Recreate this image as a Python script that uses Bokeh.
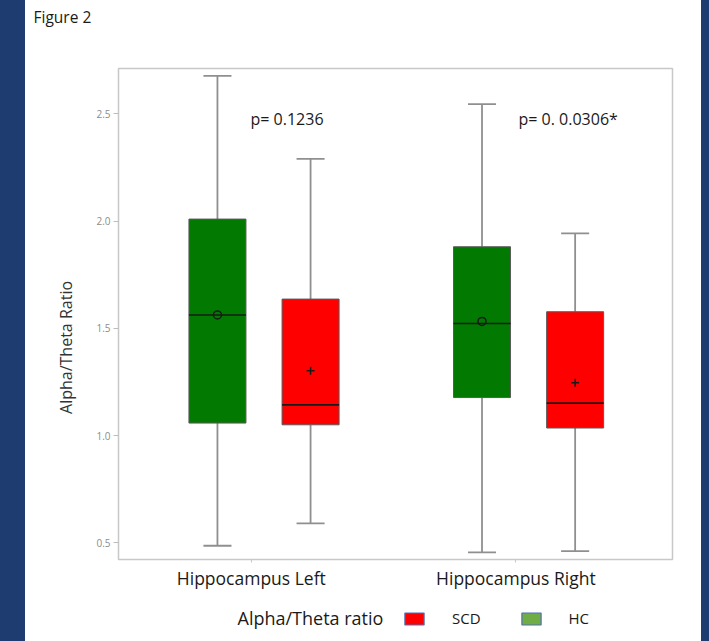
from math import pi
from bokeh.plotting import figure
from bokeh.models import (ColumnDataSource, FixedTicker, Label, Legend, LegendItem,
                          Spacer, Range1d)
from bokeh.layouts import row, column
from bokeh.embed import file_html
from bokeh.resources import INLINE

# ---------------- data ----------------
groups = ["Hippocampus Left", "Hippocampus Right"]
group_pos = [1, 2]

hc_lower = [0.486, 0.455]
hc_q1 = [1.058, 1.177]
hc_median = [1.562, 1.522]
hc_q3 = [2.009, 1.880]
hc_upper = [2.677, 2.545]
hc_mean = [1.562, 1.532]

scd_lower = [0.590, 0.461]
scd_q1 = [1.050, 1.035]
scd_median = [1.143, 1.151]
scd_q3 = [1.636, 1.577]
scd_upper = [2.290, 1.942]
scd_mean = [1.302, 1.246]

p_texts = ["p= 0.1236", "p= 0. 0.0306*"]
ytick_values = [0.5, 1.0, 1.5, 2.0, 2.5]
ytick_labels = ["0.5", "1.0", "1.5", "2.0", "2.5"]
y_title = "Alpha/Theta Ratio"
caption = "Figure 2"
legend_title = "Alpha/Theta ratio"
legend_labels = ["SCD", "HC"]

# ---------------- style / layout ----------------
FONT = "Open Sans"
NAVY = "#1f3c71"
TXT = "#1a1a1a"
DODGE = 0.176
BOX_W = 0.2155
CAP_W = 0.106
LABEL_SHIFT = -0.048
WHISK = "#8f8f8f"
HC_FILL = "#027a02"
SCD_FILL = "#ff0000"


def blank_fig(w, h):
    f = figure(width=w, height=h, x_range=Range1d(0, w), y_range=Range1d(0, h),
               output_backend="svg", toolbar_location=None, title=None,
               x_axis_location=None, y_axis_location=None,
               min_border=0, min_border_left=0, min_border_right=0,
               min_border_top=0, min_border_bottom=0)
    f.outline_line_color = None
    f.background_fill_color = "white"
    f.border_fill_color = "white"
    f.xgrid.visible = False
    f.ygrid.visible = False
    return f


# ---------------- main plot ----------------
p = figure(width=616, height=565, x_range=(0.45, 2.544), y_range=(0.422, 2.711),
           output_backend="svg", toolbar_location=None, title=None,
           min_border_left=33, min_border_right=29, min_border_top=33, min_border_bottom=41)
p.background_fill_color = "white"
p.border_fill_color = "white"
p.outline_line_color = "#c8c8c8"
p.outline_line_width = 1.5
p.xgrid.visible = False
p.ygrid.visible = False


def draw_series(offset, lower, q1, med, q3, upper, mean, fill, mean_marker):
    xs = [g + offset for g in group_pos]
    src = ColumnDataSource(dict(
        x=xs, lower=lower, q1=q1, med=med, q3=q3, upper=upper, mean=mean,
        x0=[x - BOX_W / 2 for x in xs], x1=[x + BOX_W / 2 for x in xs],
        c0=[x - CAP_W / 2 for x in xs], c1=[x + CAP_W / 2 for x in xs],
    ))
    p.segment(x0="x", y0="q3", x1="x", y1="upper", source=src, line_color=WHISK, line_width=1.8)
    p.segment(x0="x", y0="q1", x1="x", y1="lower", source=src, line_color=WHISK, line_width=1.8)
    p.segment(x0="c0", y0="upper", x1="c1", y1="upper", source=src, line_color=WHISK, line_width=1.8)
    p.segment(x0="c0", y0="lower", x1="c1", y1="lower", source=src, line_color=WHISK, line_width=1.8)
    p.vbar(x="x", width=BOX_W, bottom="q1", top="q3", source=src,
           fill_color=fill, line_color="#5a5a5a", line_width=1)
    p.segment(x0="x0", y0="med", x1="x1", y1="med", source=src, line_color=TXT, line_width=1.6)
    if mean_marker == "circle":
        p.scatter(x="x", y="mean", source=src, marker="circle", size=8,
                  fill_color=None, line_color=TXT, line_width=1.5)
    else:
        p.scatter(x="x", y="mean", source=src, marker="cross", size=8,
                  line_color=TXT, line_width=1.5)


draw_series(-DODGE, hc_lower, hc_q1, hc_median, hc_q3, hc_upper, hc_mean, HC_FILL, "circle")
draw_series(DODGE, scd_lower, scd_q1, scd_median, scd_q3, scd_upper, scd_mean, SCD_FILL, "cross")

p.yaxis.ticker = FixedTicker(ticks=ytick_values)
p.yaxis.major_label_overrides = {v: s for v, s in zip(ytick_values, ytick_labels)}
p.yaxis.major_label_text_font = FONT
p.yaxis.major_label_text_font_size = "10px"
p.yaxis.major_label_text_color = "#8c8c8c"
p.yaxis.major_tick_out = 5
p.yaxis.major_tick_in = 0
p.yaxis.minor_tick_out = 0
p.yaxis.minor_tick_in = 0
p.yaxis.major_tick_line_color = "#bdbdbd"
p.yaxis.axis_line_color = "#c8c8c8"
p.yaxis.major_label_standoff = 3

xtick_pos = [g + LABEL_SHIFT for g in group_pos]
p.xaxis.ticker = FixedTicker(ticks=xtick_pos)
p.xaxis.major_label_overrides = {t: n for t, n in zip(xtick_pos, groups)}
p.xaxis.major_label_text_font = FONT
p.xaxis.major_label_text_font_size = "17.5px"
p.xaxis.major_label_text_color = TXT
p.xaxis.major_tick_out = 3
p.xaxis.major_tick_in = 0
p.xaxis.minor_tick_out = 0
p.xaxis.minor_tick_in = 0
p.xaxis.major_tick_line_color = "#c8c8c8"
p.xaxis.axis_line_color = "#c8c8c8"
p.xaxis.major_label_standoff = 3

for gx, (dx, txt) in zip(group_pos, [(-0.051, p_texts[0]), (-0.038, p_texts[1])]):
    p.add_layout(Label(x=gx + dx, y=2.475, text=txt, text_font=FONT, text_font_size="16px",
                       text_color=TXT, text_align="left", text_baseline="middle"))

# ---------------- caption strip ----------------
p_top = blank_fig(676, 30)
p_top.add_layout(Label(x=8, y=19, text=caption, text_font=FONT, text_font_size="15.5px",
                       text_color=TXT, text_align="left", text_baseline="middle"))

# ---------------- y title strip ----------------
p_ylab = blank_fig(60, 565)
p_ylab.add_layout(Label(x=40, y=244, text=y_title, angle=pi / 2, text_font=FONT,
                        text_font_size="16px", text_color="#333333",
                        text_align="center", text_baseline="middle"))

# ---------------- legend strip ----------------
p_leg = blank_fig(676, 41)
p_leg.add_layout(Label(x=212, y=24, text=legend_title, text_font=FONT, text_font_size="18px",
                       text_color=TXT, text_align="left", text_baseline="middle"))
swatch_src = ColumnDataSource(dict(x=[0], top=[0]))
r_scd = p_leg.vbar(x="x", top="top", width=0, source=swatch_src,
                   fill_color="#ff0000", line_color="#4f6fb5", line_width=1.2, visible=False)
r_hc = p_leg.vbar(x="x", top="top", width=0, source=swatch_src,
                  fill_color="#70ad47", line_color="#4f6fb5", line_width=1.2, visible=False)
legend = Legend(items=[LegendItem(label=legend_labels[0], renderers=[r_scd]),
                       LegendItem(label=legend_labels[1], renderers=[r_hc])],
                orientation="horizontal", location=(377, 13), glyph_width=24, glyph_height=15,
                label_standoff=26, spacing=38, padding=0, margin=0, label_height=15,
                border_line_color=None, background_fill_alpha=0, inactive_fill_alpha=0,
                label_text_font=FONT, label_text_font_size="15px", label_text_color=TXT)
p_leg.add_layout(legend)

panel = column(Spacer(width=676, height=5), p_top, row(p_ylab, p), p_leg,
               styles={"background-color": "white"})
layout = row(Spacer(width=25, height=641), panel, Spacer(width=8, height=641),
             styles={"background-color": NAVY})
open("out.html", "w").write(file_html(layout, INLINE))
